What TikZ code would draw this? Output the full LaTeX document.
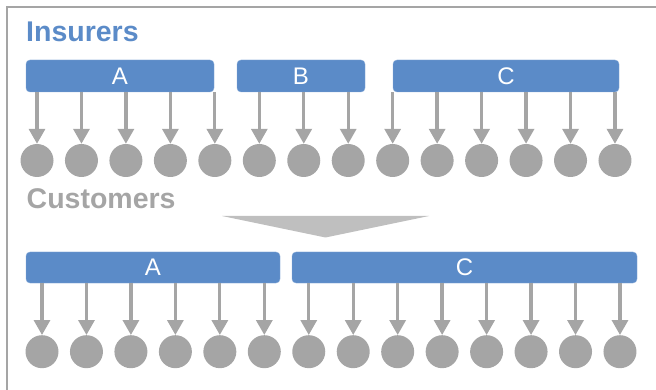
\documentclass[tikz,border=0pt]{standalone}
\usepackage{fontspec}
\setmainfont{Liberation Sans}
\usepackage{tikz}
\usepackage{xcolor}
\usetikzlibrary{arrows.meta}
\definecolor{firmblue}{HTML}{5B8BC8}
\definecolor{linegray}{HTML}{A5A5A5}
\definecolor{wedgegray}{HTML}{BFBFBF}

\begin{document}
\begin{tikzpicture}[x=1pt,y=-1pt,
      firm/.style={fill=firmblue,draw=firmblue!75!white,rounded corners=4pt,text=white,inner sep=0pt,
        font=\fontsize{24}{24}\selectfont,minimum height=32pt},
      client/.style={circle,fill=linegray,inner sep=0pt,minimum size=33pt},
      heading/.style={anchor=base west,inner sep=0pt,font=\fontsize{28.5}{30}\selectfont\bfseries},
      arrow/.style={-{Triangle[width=16pt,length=15pt]},line width=3.3pt,draw=linegray}]
    \useasboundingbox (0,0) rectangle (656,390);
    \clip (0,0) rectangle (656,390);
    \draw[linegray,line width=2.5pt] (7,7) rectangle (680,420);
    % insurers
    \node[heading,text=firmblue] (ins) at (26,41.5) {Insurers};
    \node[firm,minimum width=188pt] (tA) at (120,76) {A};
    \node[firm,minimum width=128pt] (tB) at (301,76) {B};
    \node[firm,minimum width=226pt] (tC) at (506,76) {C};
    % customers
    \node[heading,text=linegray] (cus) at (26.5,208.5) {Customers};
    \fill[wedgegray] (222,216) -- (429,216) -- (325.5,237.5) -- cycle;
    \node[firm,minimum width=254pt,minimum height=31pt] (bA) at (153,267.5) {A};
    \node[firm,minimum width=345pt,minimum height=31pt] (bC) at (464.5,267.5) {C};
    \foreach \i in {1,...,14} {
      \node[client] (t\i) at ({37+44.46*(\i-1)},160.5) {};
      \node[client] (b\i) at ({42+44.46*(\i-1)},351.7) {};
    }
    \foreach \i in {1,...,5} \draw[arrow] (tA.south -| t\i) -- (t\i.north);
    \foreach \i in {6,7,8} \draw[arrow] (tB.south -| t\i) -- (t\i.north);
    \foreach \i in {9,...,14} \draw[arrow] (tC.south -| t\i) -- (t\i.north);
    \foreach \i in {1,...,6} \draw[arrow] (bA.south -| b\i) -- (b\i.north);
    \foreach \i in {7,...,14} \draw[arrow] (bC.south -| b\i) -- (b\i.north);
  \end{tikzpicture}
\end{document}
